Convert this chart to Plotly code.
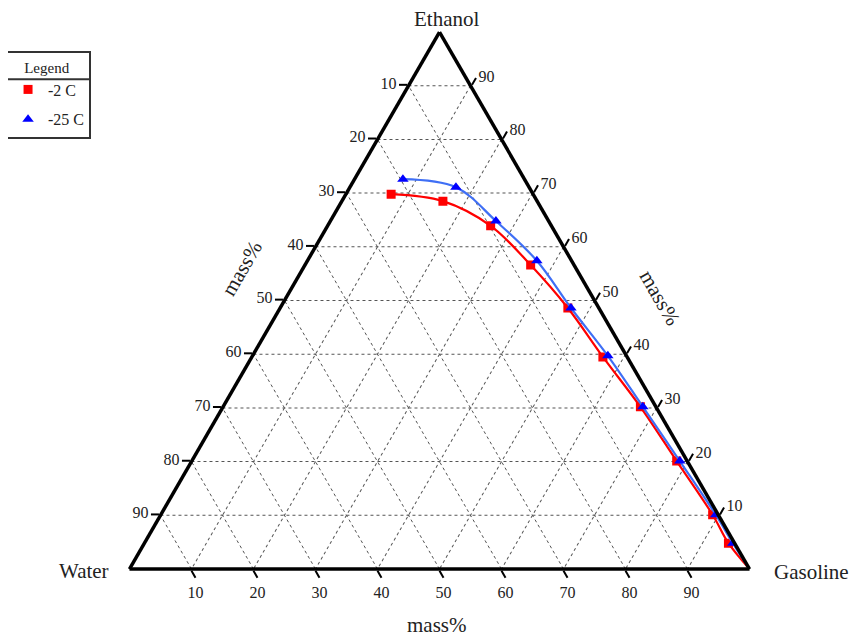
import plotly.graph_objects as go

# ---- data (mass %) ----
ethanol_2c = [69.8, 68.5, 63.9, 56.6, 48.6, 39.5, 30.2, 20.1, 10.1, 4.8]
gasoline_2c = [7.3, 16.3, 26.3, 36.4, 46.4, 56.6, 67.3, 78.2, 89.0, 94.2]
water_2c = [round(100 - e - g, 1) for e, g in zip(ethanol_2c, gasoline_2c)]

ethanol_25c = [72.6, 71.1, 64.8, 57.4, 48.6, 39.7, 30.2, 20.1, 10.1, 4.8]
gasoline_25c = [7.8, 17.1, 26.7, 37.0, 46.9, 57.3, 67.7, 78.7, 89.5, 94.9]
water_25c = [round(100 - e - g, 1) for e, g in zip(ethanol_25c, gasoline_25c)]

# curves end at the pure-gasoline corner
curve_end = [0.0, 0.0, 100.0]  # ethanol, water, gasoline

tick_vals = [10, 20, 30, 40, 50, 60, 70, 80, 90]
tick_text = ["90", "80", "70", "60", "50", "40", "30", "20", "10"]

FONT = "Times New Roman, Liberation Serif, serif"

fig = go.Figure()

fig.add_trace(go.Scatterternary(
    a=ethanol_2c + [curve_end[0]], b=water_2c + [curve_end[1]], c=gasoline_2c + [curve_end[2]],
    mode="lines", line=dict(color="#ff0000", width=2.2, shape="spline", smoothing=1.0),
    showlegend=False, hoverinfo="skip"))
fig.add_trace(go.Scatterternary(
    a=ethanol_2c, b=water_2c, c=gasoline_2c, name="-2 C", legendgroup="g1",
    mode="markers", marker=dict(symbol="square", size=9, color="#ff0000")))
fig.add_trace(go.Scatterternary(
    a=ethanol_25c + [curve_end[0]], b=water_25c + [curve_end[1]], c=gasoline_25c + [curve_end[2]],
    mode="lines", line=dict(color="#3f6ff5", width=2.2, shape="spline", smoothing=1.0),
    showlegend=False, hoverinfo="skip"))
fig.add_trace(go.Scatterternary(
    a=ethanol_25c, b=water_25c, c=gasoline_25c, name="-25 C", legendgroup="g2",
    mode="markers", marker=dict(symbol="triangle-up", size=10, color="#0000ff")))

axis_common = dict(
    min=0, linecolor="black", linewidth=3.5, showline=True,
    gridcolor="#555555", gridwidth=1, griddash="dot", showgrid=True,
    ticks="outside", ticklen=8, tickwidth=1.5, tickcolor="black",
    tickmode="array", tickvals=tick_vals, ticktext=tick_text,
    tickfont=dict(family=FONT, size=16, color="#222222"),
    title=dict(text=""),
)

ann_font = dict(family=FONT, size=21, color="#222222")


def label(text, x, y, angle=0):
    return dict(text=text, x=x, y=y, xref="paper", yref="paper", showarrow=False,
                xanchor="center", yanchor="middle", textangle=angle, font=ann_font)


fig.update_layout(
    width=864, height=638,
    margin=dict(l=121, r=122, t=24, b=77, autoexpand=False),
    paper_bgcolor="white", plot_bgcolor="white",
    font=dict(family=FONT, color="#222222"),
    ternary=dict(
        sum=100, bgcolor="white",
        domain=dict(x=[0, 1], y=[0, 1]),
        aaxis=axis_common, baxis=axis_common, caxis=axis_common,
    ),
    legend=dict(
        x=-0.198, y=0.9646, xanchor="left", yanchor="top",
        bordercolor="#333333", borderwidth=2, bgcolor="rgba(255,255,255,0)",
        font=dict(family=FONT, size=16, color="#222222"),
        tracegroupgap=6, itemwidth=30,
        title=dict(text="Legend ", side="top center", font=dict(family=FONT, size=15)),
    ),
    annotations=[
        label("Ethanol", 0.5105, 1.024),
        label("Water", -0.0725, -0.004),
        label("Gasoline", 1.0998, -0.006),
        label("mass%", 0.496, -0.104),
        label("mass%", 0.182, 0.5605, -60),
        label("mass%", 0.855, 0.5047, 60),
    ],
    shapes=[
        dict(type="line", xref="paper", yref="paper", x0=-0.198, x1=-0.0628,
             y0=0.912, y1=0.912, line=dict(color="#333333", width=2)),
    ],
)

fig.write_html("out.html")
